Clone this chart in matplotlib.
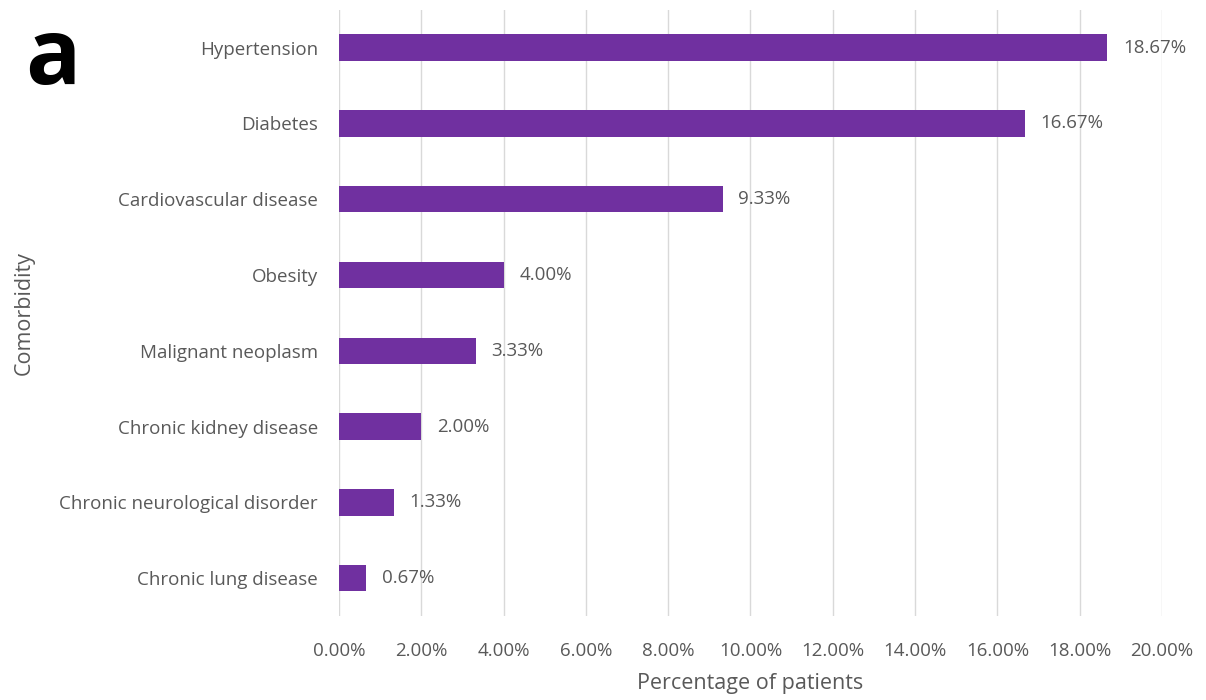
import matplotlib
matplotlib.use('Agg')
import matplotlib.pyplot as plt
from matplotlib.ticker import FuncFormatter

comorbidities = ['Hypertension', 'Diabetes', 'Cardiovascular disease', 'Obesity',
                 'Malignant neoplasm', 'Chronic kidney disease',
                 'Chronic neurological disorder', 'Chronic lung disease']
percent = [18.67, 16.67, 9.33, 4.00, 3.33, 2.00, 1.33, 0.67]
xticks = [0, 2, 4, 6, 8, 10, 12, 14, 16, 18, 20]

plt.rcParams['font.family'] = ['Open Sans', 'DejaVu Sans']
gray = '#595959'

fig = plt.figure(figsize=(12.06, 7), dpi=100)
ax = fig.add_axes([0.281, 0.12, 0.6825, 0.866])

ypos = list(range(len(comorbidities)))
ax.barh(ypos, percent, height=0.35, color='#7030A0', zorder=3)
for y, v in zip(ypos, percent):
    ax.text(v + 0.38, y, '%.2f%%' % v, va='center', ha='left', fontsize=13.5, color=gray, zorder=4)

ax.set_yticks(ypos)
ax.set_yticklabels(comorbidities, fontsize=13.5, color=gray)
ax.set_ylim(len(comorbidities) - 0.5, -0.5)
ax.set_xlim(0, 20)
ax.set_xticks(xticks)
ax.xaxis.set_major_formatter(FuncFormatter(lambda v, p: '%.2f%%' % v))
ax.tick_params(axis='x', labelsize=13.5, colors=gray, length=0, pad=19)
ax.tick_params(axis='y', length=0, pad=15)
ax.grid(axis='x', color='#d9d9d9', linewidth=1, zorder=0)
for s in ax.spines.values():
    s.set_visible(False)

ax.set_xlabel('Percentage of patients', fontsize=15.5, color=gray, labelpad=9)
ax.set_ylabel('Comorbidity', fontsize=15.5, color=gray)
ax.yaxis.set_label_coords(-0.37, 0.5)

fig.text(0.021, 0.88, 'a', fontsize=66, fontweight='bold', color='black')

fig.savefig('out.png', dpi=100)
